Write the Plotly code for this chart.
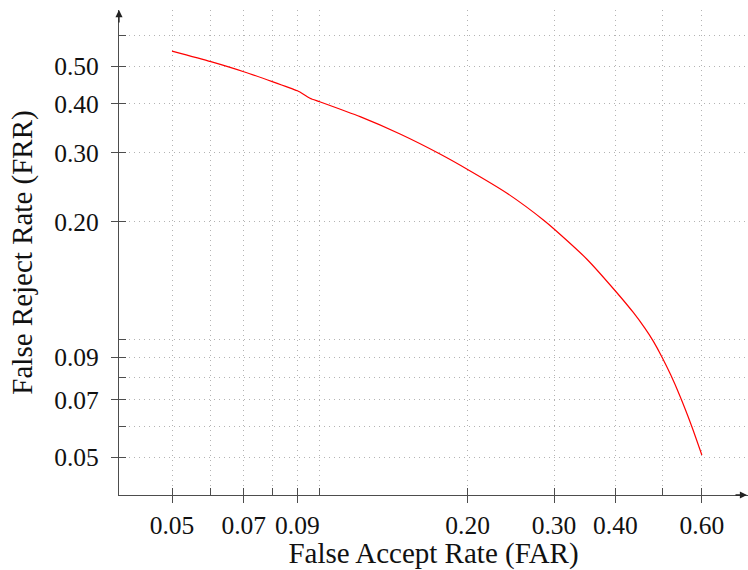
import plotly.graph_objects as go

# Data
far = [0.050, 0.060, 0.070, 0.080, 0.090, 0.0911, 0.0955, 0.100, 0.1208, 0.1457,
       0.1757, 0.200, 0.2402, 0.2866, 0.300, 0.3496, 0.400, 0.435, 0.4596, 0.478,
       0.4969, 0.5184, 0.5416, 0.5721, 0.600]
frr = [0.546, 0.513, 0.4835, 0.456, 0.432, 0.429, 0.4134, 0.405, 0.371, 0.335,
       0.2978, 0.2719, 0.2367, 0.2011, 0.1915, 0.1605, 0.1329, 0.1171, 0.1066, 0.0988,
       0.0904, 0.0811, 0.0715, 0.05995, 0.0506]

grid_vals = [0.05, 0.06, 0.07, 0.08, 0.09, 0.10, 0.20, 0.30, 0.40, 0.50, 0.60]
x_labels = ["0.05", "", "0.07", "", "0.09", "", "0.20", "0.30", "0.40", "", "0.60"]
y_labels = ["0.05", "", "0.07", "", "0.09", "", "0.20", "0.30", "0.40", "0.50", ""]

FONT = "Liberation Serif"
AXC = "#4d4d4d"
GRIDC = "#b3b3b3"

fig = go.Figure()
fig.add_trace(go.Scatter(x=far, y=frr, mode="lines",
                         line=dict(color="#ff0000", width=1.2, shape="spline", smoothing=0.6),
                         showlegend=False, hoverinfo="skip"))

common = dict(
    type="log",
    showline=True, linecolor=AXC, linewidth=1.3,
    showgrid=True, gridcolor=GRIDC, gridwidth=1, griddash="1px,4px",
    zeroline=False,
    tickmode="array", tickvals=grid_vals,
    ticks="outside", ticklen=7, tickcolor=AXC, tickwidth=1,
    tickfont=dict(family=FONT, size=25.5, color="#111"),
    minor=dict(ticks="inside", tickmode="array", tickvals=grid_vals, ticklen=7,
               tickcolor=AXC, tickwidth=1, showgrid=False),
)

fig.update_xaxes(**common, ticktext=x_labels,
                 range=[-1.40897, -0.12787],
                 title=dict(text="False Accept Rate (FAR)", font=dict(family=FONT, size=29, color="#111"),
                            standoff=10))
fig.update_yaxes(**common, ticktext=y_labels, ticklabelstandoff=7,
                 range=[-1.39822, -0.15781],
                 title=dict(text="False Reject Rate (FRR)", font=dict(family=FONT, size=29, color="#111"),
                            standoff=12))

# axis arrows
fig.add_annotation(x=0, y=1, xref="paper", yref="paper", ax=0, ay=14, text="",
                   showarrow=True, arrowhead=2, arrowsize=1.1, arrowwidth=1.3, arrowcolor="#222")
fig.add_annotation(x=1, y=0, xref="paper", yref="paper", ax=-14, ay=0, text="",
                   showarrow=True, arrowhead=2, arrowsize=1.1, arrowwidth=1.3, arrowcolor="#222")

fig.update_layout(
    width=748, height=570,
    margin=dict(l=119, r=0, t=10, b=75),
    paper_bgcolor="white", plot_bgcolor="white",
    font=dict(family=FONT),
)

fig.write_html("out.html", config={"displayModeBar": False},
               post_script="document.body.style.margin='0';")
